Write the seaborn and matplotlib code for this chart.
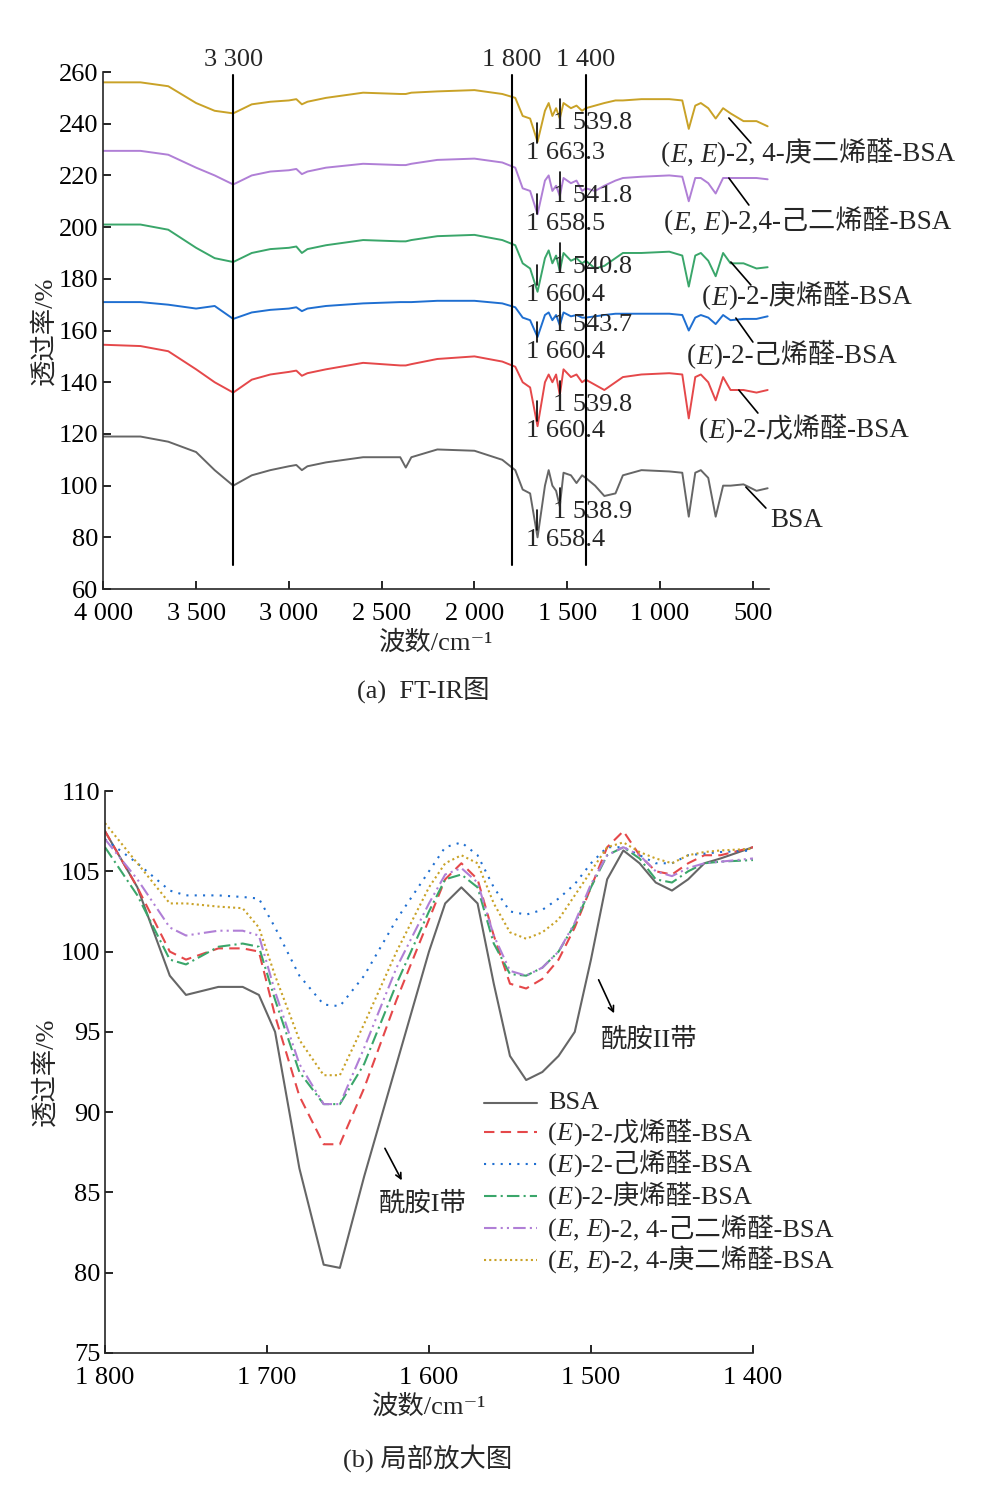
import numpy as np
import pandas as pd
import matplotlib
matplotlib.use('Agg')
import matplotlib.pyplot as plt
from matplotlib.offsetbox import TextArea, HPacker, VPacker, DrawingArea, AnnotationBbox, AnchoredOffsetbox
from matplotlib.lines import Line2D
import seaborn as sns

sns.set_style('ticks')
plt.rcParams['font.family'] = ['Liberation Serif', 'DejaVu Serif', 'Noto Sans CJK SC']

# ---- top panel data (full spectrum) ----
tx = [4000, 3800, 3650, 3500, 3400, 3300, 3200, 3100, 3000, 2960, 2930, 2900, 2800, 2600, 2400, 2370, 2340,
      2200, 2000, 1850, 1780, 1740, 1700, 1660, 1620, 1600, 1580, 1560, 1540, 1520, 1480, 1450, 1420, 1400,
      1350, 1300, 1240, 1200, 1100, 950, 880, 845, 810, 780, 740, 700, 660, 620, 550, 480, 420]
bsa_top = [119, 119, 117, 113, 106, 100, 104, 106, 107.5, 108, 106, 107.5, 109, 111, 111, 107, 111,
           114, 113.5, 110, 106, 98.5, 97, 80, 100, 106, 100, 98, 92, 105, 104, 101, 104, 103,
           100, 96, 97, 104, 106, 105.5, 105, 88, 105, 106, 103, 88, 100, 100, 100.5, 98, 99]
wu_top = [154.5, 154, 152, 145, 140, 136, 141, 143, 144, 144.5, 142.5, 143.5, 145, 147.5, 146.5, 146.5, 147,
          149, 150, 148, 146, 140, 138, 123, 140, 143, 140, 143, 135, 145, 142, 143, 140, 141,
          139, 137, 140, 142, 143, 143.5, 143, 126, 142, 143, 140, 133, 142, 137, 137, 136, 137]
ji_top = [171, 171, 170, 168.5, 169.5, 164.5, 167, 168, 168.5, 169, 167.5, 168.5, 169.5, 170.5, 171, 171, 171,
          171.5, 171.5, 170.5, 169, 165, 164, 157.5, 166, 167, 164, 166, 162, 167, 165.5, 166, 165, 165,
          165.5, 166, 166.5, 166.5, 166.5, 166.5, 166, 160, 165, 166, 165, 162.5, 166, 164, 164.5, 164.5, 165.5]
geng_top = [201, 201, 199, 192, 188, 186.5, 190, 191.5, 192, 192.5, 190, 191.5, 193, 195, 194.5, 194.5, 195,
            196.5, 197, 195, 193, 186, 184, 175, 188, 191, 186, 189, 183, 190, 187, 188, 186, 187,
            184, 185, 188, 190, 190, 190.5, 189, 177, 189, 190, 187, 181, 190, 186, 186, 184, 184.5]
jier_top = [229.5, 229.5, 228, 223, 220, 216.5, 220, 221.5, 222, 222.5, 220.5, 221.5, 223, 224.5, 224, 224, 224.5,
            226, 226.5, 225, 223, 215, 214, 205, 218, 220, 214, 216, 212, 219, 217, 218, 214, 215,
            214, 216, 218, 219, 219.5, 220, 219.5, 210, 219, 219, 217, 213, 219, 219, 219, 219, 218.5]
genger_top = [256, 256, 254.5, 248, 245, 244, 247.5, 248.5, 249, 249.5, 247.5, 248.5, 250, 252, 251.5, 251.5, 252,
              252.5, 253, 251.5, 250, 243, 242, 233, 245, 248, 243, 246, 242, 248, 246, 247, 245, 246,
              247, 248, 249, 249, 249.5, 249.5, 249, 238, 247, 248, 246, 242, 246, 244, 241, 241, 239]

# ---- bottom panel data (1800-1400) ----
bx = [1800, 1780, 1760, 1750, 1730, 1715, 1705, 1695, 1680, 1665, 1655, 1640, 1620, 1600, 1590, 1580, 1570,
      1560, 1550, 1540, 1530, 1520, 1510, 1500, 1490, 1480, 1470, 1460, 1450, 1440, 1430, 1420, 1400]
bsa_b = [107.5, 104, 98.5, 97.3, 97.8, 97.8, 97.3, 95, 86.5, 80.5, 80.3, 86, 93, 100, 103, 104, 103,
         98, 93.5, 92, 92.5, 93.5, 95, 99.5, 104.5, 106.3, 105.5, 104.3, 103.8, 104.5, 105.5, 105.8, 106.5]
wu_b = [107.5, 104, 100, 99.5, 100.2, 100.2, 100, 96, 91, 88, 88, 91.5, 97, 102, 104.5, 105.5, 104.5,
        101, 98, 97.7, 98.3, 99.5, 101.5, 104, 106.5, 107.5, 106, 105, 104.8, 105.5, 106, 106, 106.5]
ji_b = [107, 105.5, 103.8, 103.5, 103.5, 103.4, 103.3, 101.5, 98.5, 96.7, 96.6, 98.5, 102, 105, 106.5, 106.8, 106,
        104, 102.5, 102.3, 102.6, 103.3, 104.2, 105.5, 106.5, 106.5, 106, 105.5, 105.5, 106, 106.1, 106.2, 106.3]
geng_b = [106.5, 103.5, 99.5, 99.2, 100.3, 100.5, 100.3, 97, 92.5, 90.5, 90.5, 93, 98, 102.5, 104.5, 104.8, 104,
          100.5, 98.6, 98.5, 99, 100, 101.7, 104, 106, 106.5, 105.8, 104.5, 104.3, 105, 105.5, 105.6, 105.7]
jier_b = [107, 104.5, 101.5, 101, 101.3, 101.3, 101, 97.5, 93, 90.5, 90.5, 94, 99, 103, 104.8, 105.2, 104.3,
          101, 98.8, 98.5, 99, 100, 101.8, 104.2, 106, 106.5, 106, 105, 104.7, 105.2, 105.5, 105.6, 105.8]
genger_b = [108, 105.5, 103, 103, 102.8, 102.7, 101.5, 98.5, 94.5, 92.3, 92.3, 95.5, 100, 104, 105.5, 106, 105.5,
            103, 101.2, 100.8, 101.2, 102, 103.5, 105, 106.5, 106.8, 106.2, 105.8, 105.5, 106, 106.2, 106.3, 106.4]

names = ['BSA', '(E)-2-戊烯醛-BSA', '(E)-2-己烯醛-BSA', '(E)-2-庚烯醛-BSA',
         '(E, E)-2, 4-己二烯醛-BSA', '(E, E)-2, 4-庚二烯醛-BSA']
top_names = ['BSA', '(E)-2-戊烯醛-BSA', '(E)-2-己烯醛-BSA', '(E)-2-庚烯醛-BSA',
             '(E, E)-2,4-己二烯醛-BSA', '(E, E)-2, 4-庚二烯醛-BSA']
peak_hi = ['1 538.9', '1 539.8', '1 543.7', '1 540.8', '1 541.8', '1 539.8']
peak_lo = ['1 658.4', '1 660.4', '1 660.4', '1 660.4', '1 658.5', '1 663.3']

top_colors = ['#666666', '#e5484a', '#1f6fd1', '#3aa66a', '#b07fd6', '#c9a227']
bot_styles = ['-', (0, (5, 3)), (0, (1, 3)), (0, (6, 2, 1, 2)), (0, (6, 2, 1, 2, 1, 2)), (0, (1, 1.5))]
top_series = [bsa_top, wu_top, ji_top, geng_top, jier_top, genger_top]
bot_series = [bsa_b, wu_b, ji_b, geng_b, jier_b, genger_b]

fs = 19


def rich(s, size=fs):
    # italic "E" inside the leading parenthesis, everything else upright
    parts = []
    close = s.find(')')
    buf = ''
    for i, ch in enumerate(s):
        if ch == 'E' and i < close:
            if buf:
                parts.append(TextArea(buf, textprops=dict(fontsize=size)))
                buf = ''
            parts.append(TextArea('E', textprops=dict(fontsize=size, fontstyle='italic')))
        else:
            buf += ch
    if buf:
        parts.append(TextArea(buf, textprops=dict(fontsize=size)))
    return HPacker(children=parts, sep=0, pad=0, align='baseline')


fig = plt.figure(figsize=(9.84, 14.97), dpi=100)

# ---------- (a) ----------
ax1 = fig.add_axes([0.105, 0.6065, 0.677, 0.3454])
for ys, c in zip(top_series, top_colors):
    sns.lineplot(x=tx, y=ys, ax=ax1, color=c, lw=1.4, estimator=None, sort=False)
ax1.set_xlim(4000, 410)
ax1.set_ylim(60, 260)
ax1.set_xticks([4000, 3500, 3000, 2500, 2000, 1500, 1000, 500])
ax1.set_xticklabels(['4 000', '3 500', '3 000', '2 500', '2 000', '1 500', '1 000', '500'])
ax1.set_yticks(range(60, 261, 20))
ax1.tick_params(direction='in', labelsize=fs, length=6, width=1.2, colors='black')
ax1.tick_params(axis='x', pad=10)
for s in ['top', 'right']:
    ax1.spines[s].set_visible(False)
for s in ['left', 'bottom']:
    ax1.spines[s].set_linewidth(1.2)
for v, lab in zip([3300, 1800, 1400], ['3 300', '1 800', '1 400']):
    ax1.plot([v, v], [69.5, 259], color='black', lw=1.5)
    ax1.text(v, 260.5, lab, ha='center', va='bottom', fontsize=fs, clip_on=False)

px = 2.585  # pixels per y unit
hi_y = [512, 405, 325, 267, 196, 123]
lo_y = [540, 431, 352, 295, 224, 153]
lab_pos = [(796, 520), (803, 429), (791, 355), (806, 296), (807, 221), (807, 153)]
lead = [((745, 487), (765, 508)), ((738, 390), (757, 413)), ((735, 318), (752, 342)),
        ((730, 262), (750, 285)), ((728, 178), (748, 205)), ((728, 118), (750, 143))]


def dx(p):
    return 4000 - (p - 103) / 0.1854


def dy(p):
    return 260 - (p - 72) / px


for i in range(6):
    ax1.text(1362, dy(hi_y[i]), peak_hi[i], ha='center', va='center', fontsize=fs)
    ax1.text(1508, dy(lo_y[i]), peak_lo[i], ha='center', va='center', fontsize=fs)
    ax1.plot([1540, 1540], [dy(hi_y[i] - 24), dy(hi_y[i] - 6)], color='black', lw=1.2)
    ax1.plot([1663, 1663], [dy(lo_y[i] - 30), dy(lo_y[i] - 10)], color='black', lw=1.2)
    (a, b), (c, d) = lead[i]
    ax1.plot([dx(a), dx(c)], [dy(b), dy(d)], color='black', lw=1.2, clip_on=False)
    ab = AnnotationBbox(rich(top_names[i], 19.5), (dx(lab_pos[i][0]), dy(lab_pos[i][1])), xycoords='data',
                        frameon=False, box_alignment=(0.5, 0.5), annotation_clip=False, pad=0)
    ax1.add_artist(ab)
ax1.set_xlabel('波数/cm⁻¹', fontsize=fs, labelpad=4)
ax1.set_ylabel('透过率/%', fontsize=fs, labelpad=2)
fig.text(0.43, 1 - 690 / 1497, '(a)  FT-IR图', ha='center', va='center', fontsize=fs)

# ---------- (b) ----------
ax2 = fig.add_axes([0.1067, 0.0962, 0.6585, 0.3754])
for ys, c, ls in zip(bot_series, top_colors, bot_styles):
    sns.lineplot(x=bx, y=ys, ax=ax2, color=c, lw=1.5, linestyle=ls, estimator=None, sort=False)
ax2.set_xlim(1800, 1400)
ax2.set_ylim(75, 110)
ax2.set_xticks([1800, 1700, 1600, 1500, 1400])
ax2.set_xticklabels(['1 800', '1 700', '1 600', '1 500', '1 400'])
ax2.set_yticks(range(75, 111, 5))
ax2.tick_params(direction='in', labelsize=fs, length=6, width=1.2, colors='black')
ax2.tick_params(axis='x', pad=10)
for s in ['top', 'right']:
    ax2.spines[s].set_visible(False)
for s in ['left', 'bottom']:
    ax2.spines[s].set_linewidth(1.2)

# legend built from line samples and rich labels
rows = []
for c, ls, n in zip(top_colors, bot_styles, names):
    da = DrawingArea(38, 12, 0, 0)
    da.add_artist(Line2D([0, 38], [6, 6], color=c, lw=1.5, linestyle=ls))
    rows.append(HPacker(children=[da, rich(n)], sep=8, pad=0, align='center'))
leg = AnchoredOffsetbox(loc='upper left', child=VPacker(children=rows, sep=3, pad=0, align='left'),
                        bbox_to_anchor=(0.585, 0.465), bbox_transform=ax2.transAxes, frameon=False,
                        pad=0, borderpad=0)
ax2.add_artist(leg)

ax2.annotate('', xy=(1485, 96.0), xytext=(1496, 98.4),
             arrowprops=dict(arrowstyle='->', color='black', lw=1.2))
ax2.text(1464, 94.5, '酰胺II带', ha='center', va='center', fontsize=fs)
ax2.annotate('', xy=(1616, 85.6), xytext=(1628, 87.9),
             arrowprops=dict(arrowstyle='->', color='black', lw=1.2))
ax2.text(1604, 84.3, '酰胺I带', ha='center', va='center', fontsize=fs)
ax2.set_xlabel('波数/cm⁻¹', fontsize=fs, labelpad=4)
ax2.set_ylabel('透过率/%', fontsize=fs, labelpad=2)
fig.text(0.435, 1 - 1458 / 1497, '(b) 局部放大图', ha='center', va='center', fontsize=fs)

fig.savefig('out.png', dpi=100)
